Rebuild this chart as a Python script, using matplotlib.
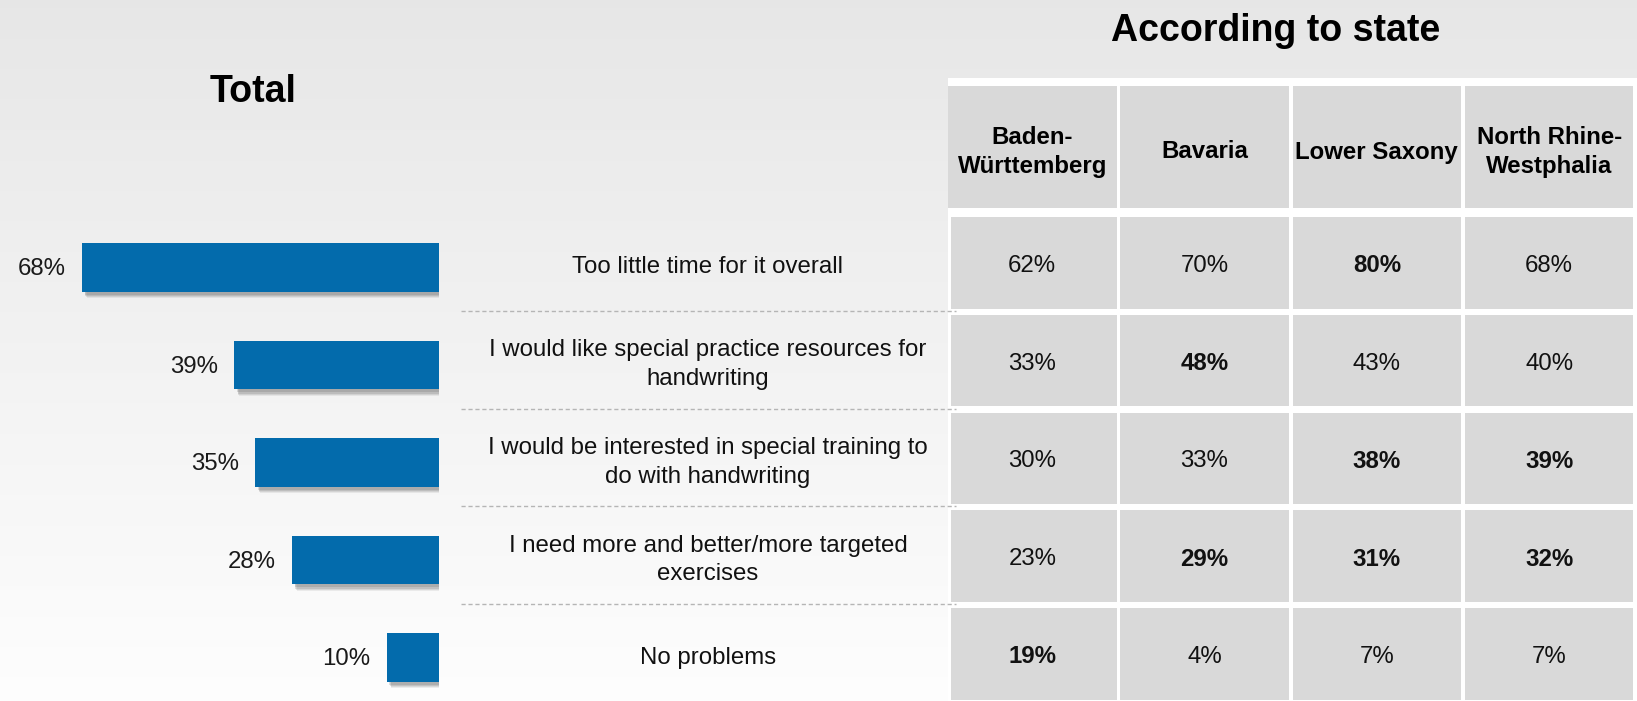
import numpy as np
import matplotlib
matplotlib.use("Agg")
import matplotlib.pyplot as plt
import matplotlib.patheffects as pe
from matplotlib.patches import Rectangle
from matplotlib.lines import Line2D

plt.rcParams["font.family"] = ["Liberation Sans", "DejaVu Sans"]

# --- Data ---
reasons = [
    "Too little time for it overall",
    "I would like special practice resources for\nhandwriting",
    "I would be interested in special training to\ndo with handwriting",
    "I need more and better/more targeted\nexercises",
    "No problems",
]
total = [68, 39, 35, 28, 10]
states = ["Baden-\nWürttemberg", "Bavaria", "Lower Saxony", "North Rhine-\nWestphalia"]
bw = [62, 33, 30, 23, 19]
bavaria = [70, 48, 33, 29, 4]
lower_saxony = [80, 43, 38, 31, 7]
nrw = [68, 40, 39, 32, 7]
# cells printed in bold (row highlights)
bw_bold = [False, False, False, False, True]
bavaria_bold = [False, True, False, True, False]
lower_saxony_bold = [True, False, True, True, False]
nrw_bold = [False, False, True, True, False]

state_values = [bw, bavaria, lower_saxony, nrw]
state_bold = [bw_bold, bavaria_bold, lower_saxony_bold, nrw_bold]

# --- Layout (pixels) ---
W, H = 1637, 701
BAR_COLOR = "#036bac"
CELL_COLOR = "#d9d9d9"
BAR_RIGHT = 439          # x pixel where 0% sits
PX_PER_PCT = 5.25
BAR_ROW0, BAR_PITCH = 267.5, 97.5
ROW_TOP0, ROW_PITCH, ROW_H = 217, 97.8, 91.5
COL_LEFT0, COL_PITCH, COL_W = 948, 172.3, 168.5
HEAD_TOP, HEAD_BOT = 86, 208
FS = 17.3

fig = plt.figure(figsize=(W / 100, H / 100), dpi=100)

# background gradient
bg = fig.add_axes([0, 0, 1, 1])
grad = np.linspace(0.905, 0.995, 256)[:, None]
bg.imshow(np.dstack([grad, grad, grad]), aspect="auto", extent=(0, 1, 0, 1))
bg.axis("off")

# overlay axes in pixel units for table and text
lay = fig.add_axes([0, 0, 1, 1])
lay.set_xlim(0, W)
lay.set_ylim(H, 0)
lay.axis("off")
lay.patch.set_alpha(0)

# bar axes
bax = fig.add_axes([0, 0, BAR_RIGHT / W, 1])
bax.set_xlim(BAR_RIGHT / PX_PER_PCT, 0)
bax.set_ylim((H - BAR_ROW0) / BAR_PITCH, -BAR_ROW0 / BAR_PITCH)
bax.axis("off")
bax.patch.set_alpha(0)

rows = np.arange(len(total))
bars = bax.barh(rows, total, height=0.5, color=BAR_COLOR)
shadow = [pe.SimplePatchShadow(offset=(dx, -dy), shadow_rgbFace="#606060", alpha=a)
          for dx, dy, a in [(3.5, 4.5, 0.10), (3.0, 3.8, 0.14), (2.5, 3.0, 0.18), (2.0, 2.2, 0.20)]]
for b in bars:
    b.set_path_effects(shadow + [pe.Normal()])
for i, v in zip(rows, total):
    bax.text(v + 3.1, i + 0.02, f"{v}%", ha="right", va="center", fontsize=FS, color="#1a1a1a")

# titles
lay.text(253, 92, "Total", ha="center", va="center", fontsize=27, fontweight="bold")
lay.text(1276, 31, "According to state", ha="center", va="center", fontsize=27, fontweight="bold")

# reason labels and dashed separators
for i, r in enumerate(reasons):
    yc = ROW_TOP0 + i * ROW_PITCH + ROW_H / 2 + 4
    lay.text(708, yc, r, ha="center", va="center", fontsize=FS, color="#111111",
             linespacing=1.38)
    if i > 0:
        ys = ROW_TOP0 + i * ROW_PITCH - 4
        lay.add_line(Line2D([461, 956], [ys, ys], color="#b5b5b5", lw=1, ls=(0, (3, 2))))

# table
lay.add_patch(Rectangle((948, 78), W - 948, H - 78, facecolor="white", edgecolor="none"))
for j, name in enumerate(states):
    x0 = COL_LEFT0 + j * COL_PITCH
    lay.add_patch(Rectangle((x0, HEAD_TOP), COL_W, HEAD_BOT - HEAD_TOP,
                            facecolor=CELL_COLOR, edgecolor="none"))
    lay.text(x0 + COL_W / 2, (HEAD_TOP + HEAD_BOT) / 2 + 5, name, ha="center", va="center",
             fontsize=FS, fontweight="bold", linespacing=1.3)
    for i in rows:
        y0 = ROW_TOP0 + i * ROW_PITCH
        cx0 = x0 + (3 if j == 0 else 0)
        lay.add_patch(Rectangle((cx0, y0), COL_W - (cx0 - x0), ROW_H,
                                facecolor=CELL_COLOR, edgecolor="none"))
        lay.text(x0 + COL_W / 2, y0 + ROW_H / 2 + 3, f"{state_values[j][i]}%",
                 ha="center", va="center", fontsize=FS, color="#111111",
                 fontweight="bold" if state_bold[j][i] else "normal")

fig.savefig("out.png", dpi=100)
